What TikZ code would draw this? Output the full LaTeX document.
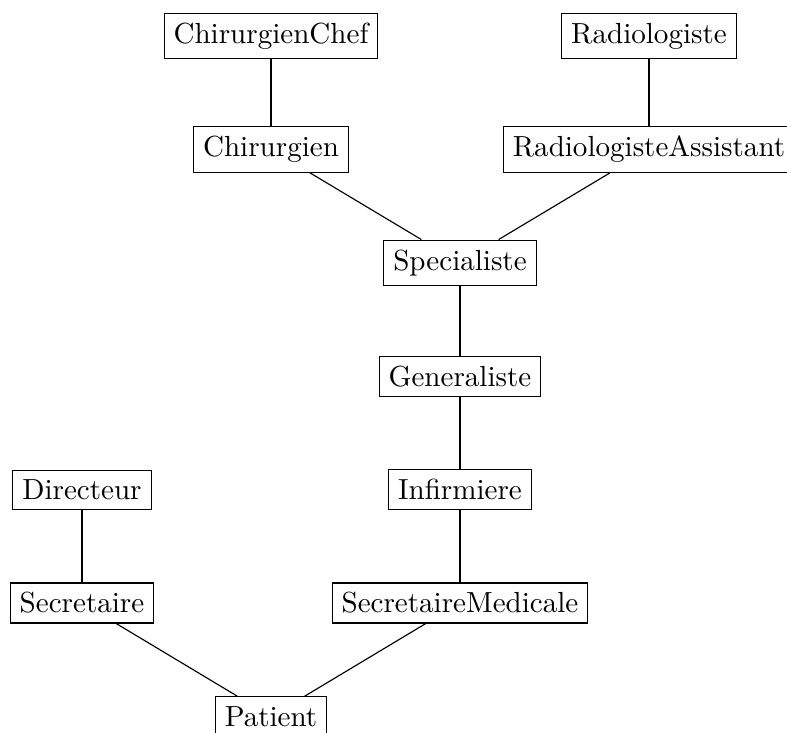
\documentclass[tikz,border=0pt]{standalone}
\begin{document}
\begin{tikzpicture}[x=0.35088pt,y=-0.35088pt,
  role/.style={draw,rectangle,anchor=center,font=\fontsize{10.2pt}{12pt}\selectfont}]
\useasboundingbox (0,0) rectangle (787,733);
\node[role] (chefchir) at (271,36) {ChirurgienChef};
\node[role] (radio) at (649,36) {Radiologiste};
\node[role] (chir) at (271,149.5) {Chirurgien};
\node[role] (radioass) at (649,149.5) {RadiologisteAssistant};
\node[role] (spec) at (460,262.7) {Specialiste};
\node[role] (gen) at (460,376.2) {Generaliste};
\node[role] (dir) at (82,489.7) {Directeur};
\node[role] (inf) at (460,489.7) {Infirmiere};
\node[role] (sec) at (82,603) {Secretaire};
\node[role] (secmed) at (460,603) {SecretaireMedicale};
\node[role] (pat) at (271,716.4) {Patient};
\draw (chefchir) -- (chir);
\draw (radio) -- (radioass);
\draw (chir) -- (spec);
\draw (radioass) -- (spec);
\draw (spec) -- (gen);
\draw (gen) -- (inf);
\draw (inf) -- (secmed);
\draw (dir) -- (sec);
\draw (sec) -- (pat);
\draw (secmed) -- (pat);
\end{tikzpicture}
\end{document}
